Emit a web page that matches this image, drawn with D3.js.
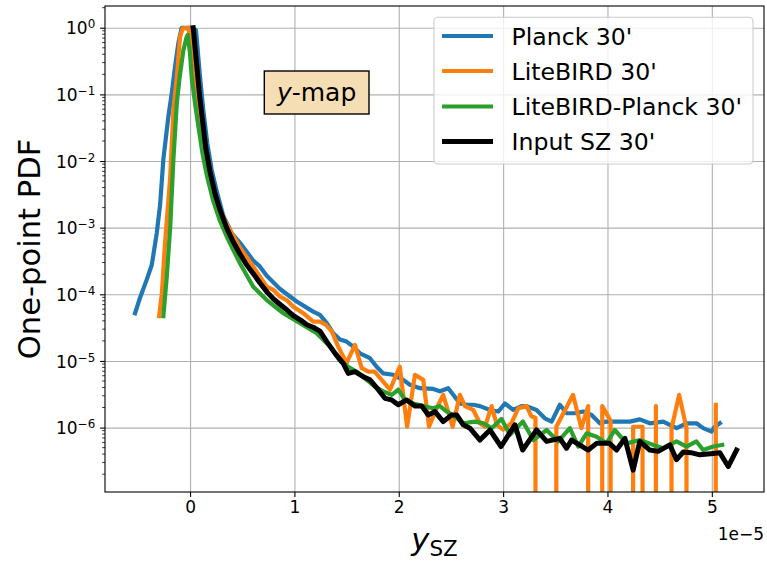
<!DOCTYPE html>
<html>
<head>
<meta charset="utf-8">
<script src="https://cdn.jsdelivr.net/npm/d3@7"></script>
<style>
  body { margin: 0; background: #fff; }
  svg { display: block; }
  text { font-family: "DejaVu Sans", sans-serif; fill: #000; }
</style>
</head>
<body>
<div id="chart"></div>
<script>
// ── Data (x in units of 1e-5, one-point PDF) ──────────
const xTicks = [0, 1, 2, 3, 4, 5];
const yTicks = [1e-6, 1e-5, 1e-4, 1e-3, 1e-2, 1e-1, 1e0];
const seriesNames = ["Planck 30'", "LiteBIRD 30'", "LiteBIRD-Planck 30'", "Input SZ 30'"];
const seriesColors = ["#1f77b4", "#ff7f0e", "#2ca02c", "#000000"];

const planck = [
  [-0.527,5.2e-5],[-0.479,8.9e-5],[-0.415,1.66e-4],[-0.367,2.75e-4],[-0.319,8.3e-4],
  [-0.287,2.2e-3],[-0.256,1.05e-2],[-0.208,4.6e-2],[-0.175,0.105],[-0.144,0.26],
  [-0.112,0.59],[-0.080,1.0],[-0.032,1.0],[0.0,1.0],[0.057,0.92],[0.096,0.18],
  [0.127,0.058],[0.166,0.018],[0.208,7.3e-3],[0.256,3.5e-3],[0.319,1.5e-3],
  [0.40,8.2e-4],[0.495,5.5e-4],[0.606,3.2e-4],[0.67,2.6e-4],[0.735,1.9e-4],
  [0.862,1.2e-4],[1.022,7.8e-5],[1.18,5.5e-5],[1.245,4.9e-5],[1.31,3.7e-5],
  [1.373,2.6e-5],[1.437,2.1e-5],[1.50,1.95e-5],[1.564,1.64e-5],[1.628,1.3e-5],
  [1.724,1.1e-5],[1.788,8.2e-6],[1.852,6.5e-6],[1.947,6.2e-6],[2.043,5.2e-6],
  [2.107,4.4e-6],[2.203,3.9e-6],[2.33,3.8e-6],[2.395,3.5e-6],[2.474,3.9e-6],
  [2.522,3.1e-6],[2.586,2.3e-6],[2.65,2.2e-6],[2.714,2.2e-6],[2.778,2.1e-6],
  [2.874,1.84e-6],[2.953,1.74e-6],[3.017,2.3e-6],[3.097,1.84e-6],[3.177,2.1e-6],
  [3.225,2.1e-6],[3.32,1.84e-6],[3.40,1.38e-6],[3.465,1.23e-6],[3.544,2.2e-6],
  [3.608,1.64e-6],[3.688,1.64e-6],[3.767,1.74e-6],[3.848,1.55e-6],[3.927,1.16e-6],
  [3.99,1.23e-6],[4.119,1.23e-6],[4.215,1.23e-6],[4.31,1.33e-6],[4.406,1.16e-6],
  [4.534,1.23e-6],[4.662,9.8e-7],[4.757,1.16e-6],[4.853,1.16e-6],[4.917,9.8e-7],
  [4.997,8.7e-7],[5.029,1.03e-6],[5.077,1.16e-6]
];

const litebird = [
  [-0.297,4.7e-5],[-0.27,1.03e-4],[-0.24,5.8e-4],[-0.19,5.8e-3],[-0.16,0.058],
  [-0.127,0.18],[-0.096,0.73],[-0.07,0.98],[-0.016,1.0],[0.02,0.45],[0.05,0.16],
  [0.08,0.063],[0.11,0.028],[0.15,0.0126],[0.19,6.3e-3],[0.24,3.2e-3],[0.29,1.8e-3],
  [0.352,1.12e-3],[0.479,5.0e-4],[0.606,2.6e-4],[0.67,1.84e-4],[0.735,1.3e-4],
  [0.80,1.16e-4],[0.862,9.2e-5],[0.926,8.2e-5],[0.99,6.5e-5],[1.085,5.2e-5],
  [1.18,3.9e-5],[1.245,3.9e-5],[1.30,3.5e-5],[1.357,2.8e-5],[1.42,1.64e-5],
  [1.50,9.3e-6],[1.58,1.74e-5],[1.645,7.8e-6],[1.71,6.9e-6],[1.77,6.9e-6],
  [1.836,5.2e-6],[1.916,3.7e-6],[2.01,8.2e-6],[2.08,1.03e-6],[2.155,6.2e-6],
  [2.235,5.2e-6],[2.29,1.03e-6],[2.363,1.95e-6],[2.426,3.1e-6],[2.516,1.03e-6],
  [2.586,3.1e-6],[2.634,2.1e-6],[2.714,1.84e-6],[2.778,1.16e-6],[2.826,1.03e-6],
  [2.89,2.1e-6],[2.94,1.1e-6],[3.0,9.3e-7],[3.08,1.17e-6],[3.145,1.95e-6],
  [3.225,2.1e-6],[3.27,1.48e-6],[3.31,1.41e-6],[3.41,0],[3.51,1.03e-6],
  [3.67,3.1e-6],[3.75,9.8e-7],[3.815,2.1e-6],[3.88,0],[3.95,2.1e-6],[4.03,1.26e-6],
  [4.14,0],[4.246,1.03e-6],[4.336,1.03e-6],[4.40,0],[4.464,2.1e-6],[4.54,0],
  [4.614,9.8e-7],[4.687,3.1e-6],[4.757,9.8e-7],[4.85,0],[4.95,0],[5.038,2.2e-6]
];

const litebirdPlanck = [
  [-0.256,4.7e-5],[-0.223,1.84e-4],[-0.19,1.03e-3],[-0.16,1.03e-2],[-0.127,7.3e-2],
  [-0.10,0.18],[-0.064,0.46],[-0.032,0.73],[-0.022,0.78],[0.0,0.41],[0.016,0.18],
  [0.048,7.3e-2],[0.08,3.3e-2],[0.121,1.26e-2],[0.166,5.6e-3],[0.223,2.5e-3],
  [0.287,1.26e-3],[0.352,7.3e-4],[0.479,2.9e-4],[0.606,1.3e-4],[0.735,8.2e-5],
  [0.894,5.2e-5],[1.054,3.7e-5],[1.214,2.6e-5],[1.341,1.64e-5],[1.437,1.0e-5],
  [1.516,8.2e-6],[1.597,6.9e-6],[1.693,5.2e-6],[1.772,4.1e-6],[1.852,3.5e-6],
  [1.932,3.1e-6],[1.995,3.7e-6],[2.06,2.6e-6],[2.139,2.3e-6],[2.235,2.1e-6],
  [2.33,1.95e-6],[2.395,2.1e-6],[2.459,1.74e-6],[2.538,1.46e-6],[2.618,1.16e-6],
  [2.73,1.23e-6],[2.81,1.16e-6],[2.89,9.8e-7],[2.985,1.35e-6],[3.065,7.8e-7],
  [3.19,1.23e-6],[3.29,6.5e-7],[3.417,9.2e-7],[3.528,6.2e-7],[3.64,9.8e-7],
  [3.72,5.2e-7],[3.80,8.2e-7],[3.896,7.3e-7],[3.99,5.8e-7],[4.07,9.2e-7],
  [4.183,5.8e-7],[4.31,6.5e-7],[4.438,5.5e-7],[4.534,4.9e-7],[4.662,6.2e-7],
  [4.757,5.2e-7],[4.853,6.2e-7],[4.917,4.6e-7],[5.013,5.2e-7],[5.10,5.5e-7]
];

const inputSZ = [
  [0.03,1.0],[0.06,0.32],[0.09,0.1],[0.12,0.04],[0.15,0.016],[0.19,7.1e-3],
  [0.24,3.2e-3],[0.29,1.8e-3],[0.35,1.0e-3],[0.41,6.3e-4],[0.48,4.0e-4],
  [0.54,2.8e-4],[0.61,2.0e-4],[0.67,1.48e-4],[0.74,1.07e-4],[0.80,8.5e-5],
  [0.86,7.1e-5],[0.93,5.8e-5],[0.99,4.8e-5],[1.06,4.1e-5],[1.12,3.5e-5],
  [1.18,3.2e-5],[1.245,2.8e-5],[1.31,1.95e-5],[1.39,1.3e-5],[1.468,9.2e-6],
  [1.516,6.5e-6],[1.58,6.9e-6],[1.66,5.8e-6],[1.724,5.2e-6],[1.804,3.7e-6],
  [1.868,2.75e-6],[1.932,2.6e-6],[1.995,2.2e-6],[2.076,2.6e-6],[2.155,2.1e-6],
  [2.22,2.1e-6],[2.283,1.55e-6],[2.347,1.74e-6],[2.426,1.23e-6],[2.507,1.55e-6],
  [2.555,1.55e-6],[2.618,1.1e-6],[2.682,9.8e-7],[2.778,6.5e-7],[2.874,9.2e-7],
  [2.98,5.2e-7],[3.113,1.1e-6],[3.187,4.6e-7],[3.32,9.2e-7],[3.417,6.2e-7],
  [3.544,6.9e-7],[3.608,4.9e-7],[3.656,6.5e-7],[3.815,4.6e-7],[3.896,5.8e-7],
  [4.02,5.8e-7],[4.087,4.6e-7],[4.167,6.9e-7],[4.246,2.3e-7],[4.31,6.2e-7],
  [4.406,4.6e-7],[4.486,4.4e-7],[4.598,5.5e-7],[4.662,3.3e-7],[4.725,4.3e-7],
  [4.80,4.2e-7],[4.885,3.9e-7],[5.013,4.1e-7],[5.077,4.2e-7],[5.157,2.6e-7],
  [5.237,4.6e-7]
];

const allSeries = [planck, litebird, litebirdPlanck, inputSZ];

// ── Layout ───────────────────────────────
const W = 767, H = 562;
const margin = { top: 6, left: 105, right: 3, bottom: 70 };
const width  = W - margin.left - margin.right;
const height = H - margin.top - margin.bottom;
const FONT = "'DejaVu Sans', sans-serif";

const svg = d3.select("#chart").append("svg").attr("width", W).attr("height", H);
const g = svg.append("g").attr("transform", `translate(${margin.left},${margin.top})`);

const x = d3.scaleLinear().domain([-0.815, 5.50]).range([0, width]);
const y = d3.scaleLog().domain([1.08e-7, 2.12]).range([height, 0]);

// Grid
g.append("g").attr("transform", `translate(0,${height})`)
  .call(d3.axisBottom(x).tickValues(xTicks).tickSize(-height).tickFormat(""))
  .call(a => { a.select(".domain").remove();
    a.selectAll(".tick line").attr("stroke", "#b0b0b0").attr("stroke-width", 1.1); });
g.append("g")
  .call(d3.axisLeft(y).tickValues(yTicks).tickSize(-width).tickFormat(""))
  .call(a => { a.select(".domain").remove();
    a.selectAll(".tick line").attr("stroke", "#b0b0b0").attr("stroke-width", 1.1); });

// Lines
g.append("clipPath").attr("id", "plot-clip")
  .append("rect").attr("width", width).attr("height", height);

const line = d3.line()
  .x(d => x(d[0]))
  .y(d => y(d[1] > 0 ? d[1] : 1e-300));   // empty bins drop off the log axis

const lineWidths = [4.2, 4.2, 4.2, 5];
allSeries.forEach((s, i) => {
  g.append("path").datum(s)
    .attr("clip-path", "url(#plot-clip)")
    .attr("fill", "none")
    .attr("stroke", seriesColors[i])
    .attr("stroke-width", lineWidths[i])
    .attr("stroke-linejoin", "round")
    .attr("stroke-linecap", "square")
    .attr("d", line);
});

// Axes
const xAxis = g.append("g").attr("transform", `translate(0,${height})`)
  .call(d3.axisBottom(x).tickValues(xTicks).tickSize(4.9).tickPadding(4.5)
    .tickFormat(d3.format("d")));
xAxis.selectAll("text").attr("font-family", FONT).attr("font-size", "17px");

const yAxis = g.append("g")
  .call(d3.axisLeft(y).tickValues(yTicks).tickSize(4.9).tickPadding(4.9).tickFormat(""));
yAxis.selectAll(".tick text").each(function (d) {
  const t = d3.select(this).attr("font-family", FONT).attr("font-size", "17px")
    .attr("dy", "0.36em");
  t.append("tspan").text("10");
  t.append("tspan").attr("font-size", "11.9px").attr("dy", "-6")
    .text(String(Math.round(Math.log10(d))).replace("-", "\u2212"));
});

// minor y ticks
const minorTicks = [];
for (let k = -7; k <= 0; k++) for (let m = 2; m <= 9; m++) {
  const v = m * Math.pow(10, k);
  if (v > y.domain()[0] && v < y.domain()[1]) minorTicks.push(v);
}
g.append("g").selectAll("line").data(minorTicks).join("line")
  .attr("x1", 0).attr("x2", -2.8)
  .attr("y1", d => y(d)).attr("y2", d => y(d))
  .attr("stroke", "#000").attr("stroke-width", 0.8);

[xAxis, yAxis].forEach(a => {
  a.select(".domain").remove();
  a.selectAll(".tick line").attr("stroke", "#000").attr("stroke-width", 1.1);
});

// frame
g.append("rect").attr("width", width).attr("height", height)
  .attr("fill", "none").attr("stroke", "#000").attr("stroke-width", 1.1);

// offset text
g.append("text").attr("x", width).attr("y", height + 48)
  .attr("text-anchor", "end").attr("font-size", "17px").text("1e\u22125");

// Axis labels
const xl = svg.append("text").attr("x", margin.left + width / 2).attr("y", 550)
  .attr("text-anchor", "middle");
xl.append("tspan").attr("font-size", "30.6px").attr("font-style", "italic").text("y");
xl.append("tspan").attr("font-size", "21.4px").attr("dy", "6").text("SZ");

svg.append("text").attr("transform", `translate(40,249) rotate(-90)`)
  .attr("text-anchor", "middle").attr("font-size", "30.6px").text("One-point PDF");

// y-map box
g.append("rect").attr("x", 264.3 - margin.left).attr("y", 71 - margin.top)
  .attr("width", 104.7).attr("height", 43)
  .attr("fill", "#f5deb3").attr("stroke", "#000").attr("stroke-width", 1.4);
const ym = g.append("text").attr("x", 316.6 - margin.left).attr("y", 101 - margin.top)
  .attr("text-anchor", "middle").attr("font-size", "25px");
ym.append("tspan").attr("font-style", "italic").text("y");
ym.append("tspan").text("-map");

// Legend
const lg = svg.append("g");
lg.append("rect").attr("x", 434).attr("y", 17.3).attr("width", 319).attr("height", 146.7)
  .attr("rx", 4).attr("fill", "#fff").attr("fill-opacity", 0.8)
  .attr("stroke", "#cccccc").attr("stroke-width", 1.1);
const rowY = [36, 71, 106.5, 141.5];
seriesNames.forEach((name, i) => {
  lg.append("line").attr("x1", 442).attr("x2", 493)
    .attr("y1", rowY[i]).attr("y2", rowY[i])
    .attr("stroke", seriesColors[i]).attr("stroke-width", lineWidths[i]);
  lg.append("text").attr("x", 511.5).attr("y", rowY[i] + 8.7)
    .attr("font-size", "23.6px").text(name);
});
</script>
</body>
</html>
